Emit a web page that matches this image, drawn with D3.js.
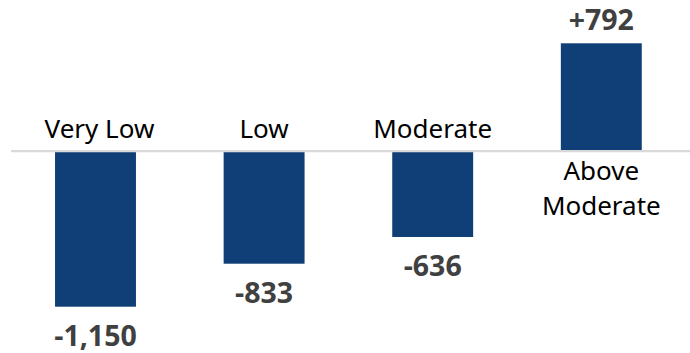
<!DOCTYPE html>
<html><head><meta charset="utf-8">
<script src="https://cdn.jsdelivr.net/npm/d3@7"></script>
<style>body{margin:0;background:#fff}svg{display:block}</style>
</head><body>
<svg id="chart" width="690" height="353"></svg>
<script>
const categories = [["Very Low"], ["Low"], ["Moderate"], ["Above", "Moderate"]];
const values = [-1150, -833, -636, 792];
const valueLabels = ["-1,150", "-833", "-636", "+792"];

const svg = d3.select("#chart");
const x = d3.scaleBand().domain(d3.range(values.length)).range([11.2, 685.6])
  .paddingInner(0.52).paddingOuter(0.26);
const y = d3.scaleLinear().domain([-1150, 792]).range([306.7, 43.3]);
const y0 = y(0);

svg.selectAll("rect.bar").data(values).join("rect")
  .attr("class", "bar")
  .attr("x", (d, i) => x(i))
  .attr("width", x.bandwidth())
  .attr("y", d => Math.min(y(d), y0))
  .attr("height", d => Math.abs(y(d) - y0))
  .attr("fill", "#0f3f76");

svg.append("line")
  .attr("x1", 11).attr("x2", 690)
  .attr("y1", y0 + 0.5).attr("y2", y0 + 0.5)
  .attr("stroke", "#d9d9d9").attr("stroke-width", 2.2);

// value labels
svg.selectAll("text.val").data(values).join("text")
  .attr("class", "val")
  .attr("x", (d, i) => x(i) + x.bandwidth() / 2)
  .attr("y", d => d < 0 ? y(d) + 39 : y(d) - 13.5)
  .attr("text-anchor", "middle")
  .attr("font-family", "'Open Sans', 'Noto Sans', sans-serif")
  .attr("font-weight", "bold")
  .attr("font-size", 28.5)
  .attr("fill", "#404040")
  .text((d, i) => valueLabels[i]);

// category labels
const cat = svg.selectAll("text.cat").data(categories).join("text")
  .attr("class", "cat")
  .attr("text-anchor", "middle")
  .attr("font-family", "'Noto Sans', 'Open Sans', sans-serif")
  .attr("font-size", 26)
  .attr("fill", "#000");
cat.each(function(lines, i) {
  const t = d3.select(this);
  const cx = x(i) + x.bandwidth() / 2 + (i === 0 ? 4 : 0);
  const neg = values[i] < 0;
  lines.forEach((ln, j) => {
    t.append("tspan")
      .attr("x", cx)
      .attr("y", neg ? y0 - 12.5 - (lines.length - 1 - j) * 35.5 : y0 + 29 + j * 35.5)
      .text(ln);
  });
});
</script>
</body></html>
